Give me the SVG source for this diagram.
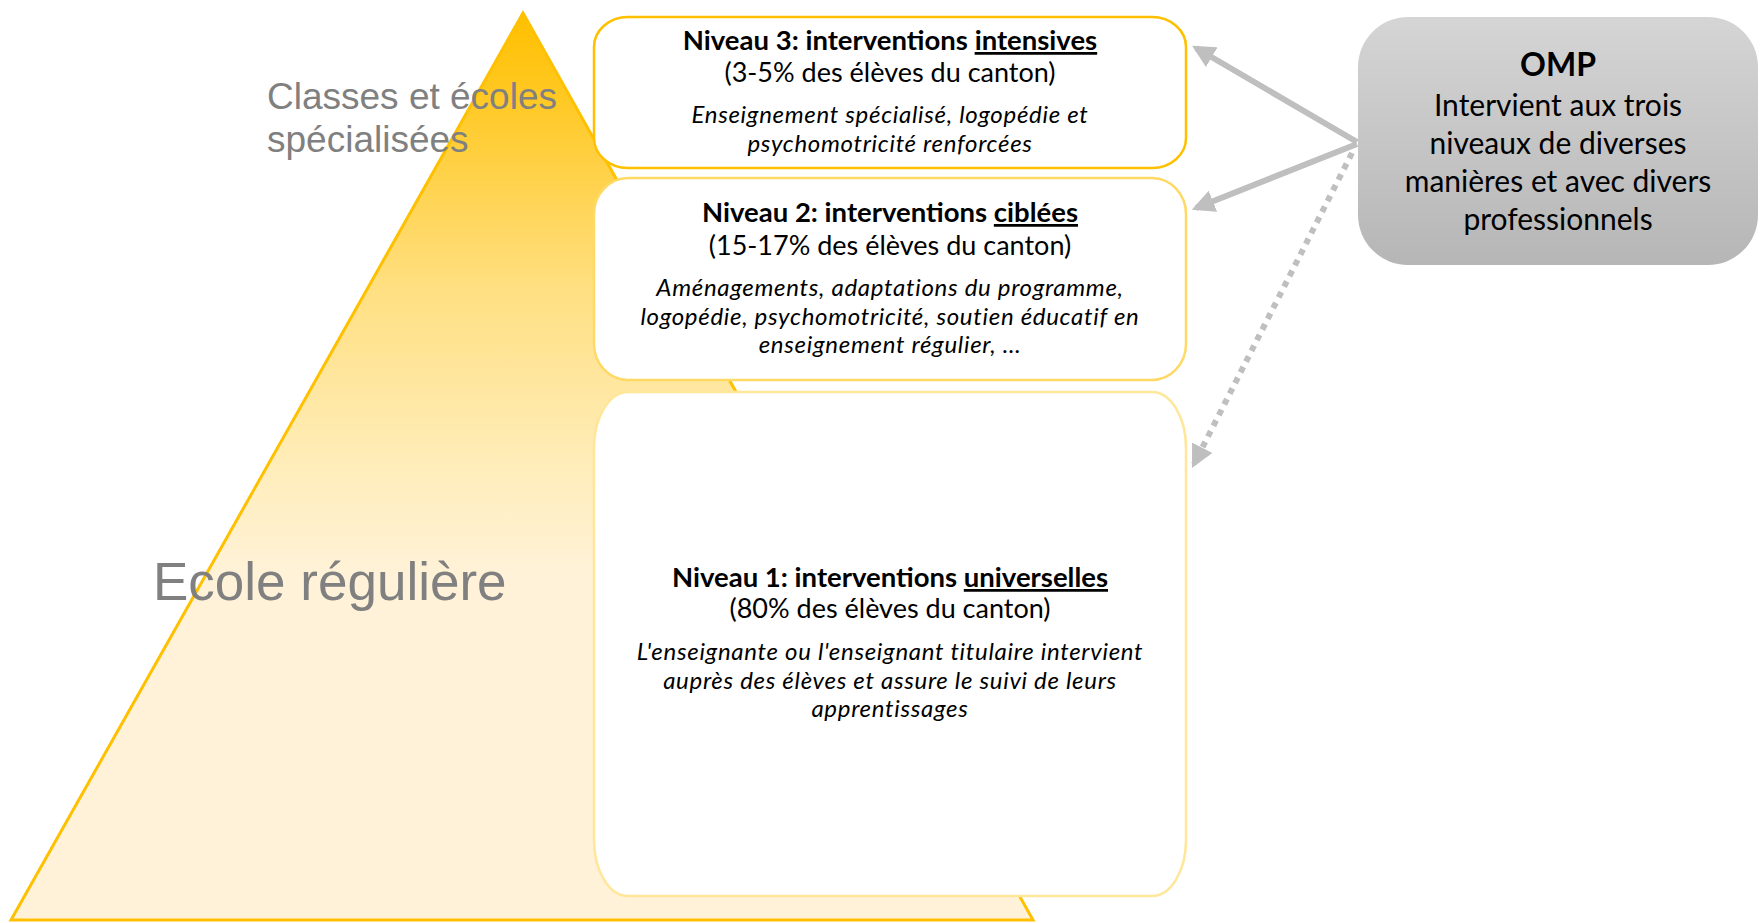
<svg xmlns="http://www.w3.org/2000/svg" width="1760" height="923" viewBox="0 0 1760 923">
<defs>
<linearGradient id="triGrad" gradientUnits="userSpaceOnUse" x1="0" y1="13" x2="0" y2="920">
<stop offset="0" stop-color="#FFC000"/>
<stop offset="0.1" stop-color="#FFC926"/>
<stop offset="0.3" stop-color="#FFDF80"/>
<stop offset="0.5" stop-color="#FFEDBA"/>
<stop offset="0.62" stop-color="#FFF2D8"/>
<stop offset="1" stop-color="#FFF2D8"/>
</linearGradient>
<linearGradient id="ompGrad" x1="0" y1="0" x2="0" y2="1">
<stop offset="0" stop-color="#D5D5D5"/>
<stop offset="1" stop-color="#B6B6B6"/>
</linearGradient>
<marker id="arr" viewBox="0 0 10 10" refX="8" refY="5" markerWidth="3.8" markerHeight="3.8" orient="auto" markerUnits="strokeWidth">
<path d="M0,0 L10,5 L0,10 Z" fill="#BFBFBF"/>
</marker>
</defs>
<style>
.lbl{font-family:"Liberation Sans",Arial,sans-serif;fill:#808080}
.t{font-family:Lato,"Open Sans",sans-serif;fill:#000;text-anchor:middle}
.b{font-weight:bold;font-size:27.5px}
.r{font-size:27px}
.i{font-style:italic;font-size:24px;letter-spacing:0.7px}
.conn{stroke:#BFBFBF;stroke-width:6;fill:none}
</style>

<g id="pyramid">
<polygon points="523,13 11,920 1033,920" fill="url(#triGrad)" stroke="#FFC000" stroke-width="3" stroke-linejoin="miter"/>
<text class="lbl" x="267" y="109" font-size="37">Classes et écoles</text>
<text class="lbl" x="267" y="152" font-size="37">spécialisées</text>
<text class="lbl" x="153" y="600" font-size="53">Ecole régulière</text>
</g>

<g id="niveau3">
<rect x="594" y="17" width="592" height="151" rx="34" ry="30" fill="#FFFFFF" stroke="#FFC000" stroke-width="2.5"/>
<text class="t b" x="890" y="50">Niveau 3: interventions <tspan text-decoration="underline">intensives</tspan></text>
<text class="t r" x="890" y="82">(3-5% des élèves du canton)</text>
<text class="t i" x="890" y="123">Enseignement spécialisé, logopédie et</text>
<text class="t i" x="890" y="152">psychomotricité renforcées</text>
</g>

<g id="niveau2">
<rect x="594" y="178" width="592" height="202" rx="34" ry="36" fill="#FFFFFF" stroke="#FFD966" stroke-width="2.5"/>
<text class="t b" x="890" y="222">Niveau 2: interventions <tspan text-decoration="underline">ciblées</tspan></text>
<text class="t r" x="890" y="255">(15-17% des élèves du canton)</text>
<text class="t i" x="890" y="296">Aménagements, adaptations du programme,</text>
<text class="t i" x="890" y="325">logopédie, psychomotricité, soutien éducatif en</text>
<text class="t i" x="890" y="353">enseignement régulier, …</text>
</g>

<g id="niveau1">
<rect x="594" y="392" width="592" height="504" rx="34" ry="56" fill="#FFFFFF" stroke="#FFE699" stroke-width="2.5"/>
<text class="t b" x="890" y="587">Niveau 1: interventions <tspan text-decoration="underline">universelles</tspan></text>
<text class="t r" x="890" y="618">(80% des élèves du canton)</text>
<text class="t i" x="890" y="660">L'enseignante ou l'enseignant titulaire intervient</text>
<text class="t i" x="890" y="689">auprès des élèves et assure le suivi de leurs</text>
<text class="t i" x="890" y="717">apprentissages</text>
</g>

<g id="omp">
<rect x="1358" y="17" width="400" height="248" rx="50" ry="50" fill="url(#ompGrad)"/>
<text class="t" x="1558" y="76" font-size="32" font-weight="bold">OMP</text>
<text class="t" x="1558" y="116" font-size="30">Intervient aux trois</text>
<text class="t" x="1558" y="154" font-size="30">niveaux de diverses</text>
<text class="t" x="1558" y="192" font-size="30">manières et avec divers</text>
<text class="t" x="1558" y="230" font-size="30">professionnels</text>
</g>

<g id="connectors">
<line class="conn" x1="1357" y1="142" x2="1196" y2="48" marker-end="url(#arr)"/>
<line class="conn" x1="1357" y1="144" x2="1196" y2="208" marker-end="url(#arr)"/>
<line class="conn" x1="1352" y1="153" x2="1194" y2="464" stroke-dasharray="6 6" marker-end="url(#arr)"/>
</g>
</svg>
